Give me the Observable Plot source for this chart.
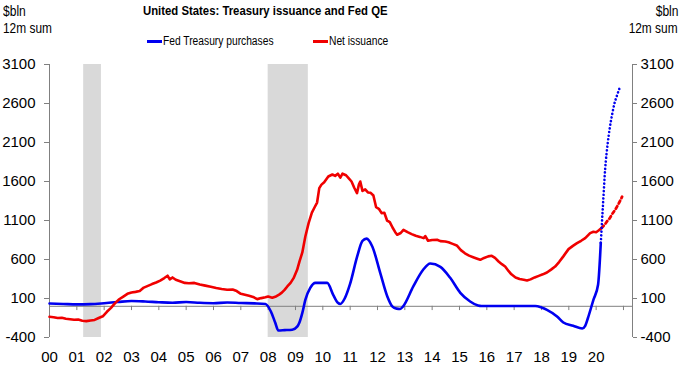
<!DOCTYPE html>
<html><head><meta charset="utf-8">
<script src="https://cdn.jsdelivr.net/npm/d3@7"></script>
<script src="https://cdn.jsdelivr.net/npm/@observablehq/plot@0.6"></script>
<style>
body{margin:0;background:#fff;font-family:"Liberation Sans",Arial,sans-serif;}
#wrap{position:relative;width:682px;height:366px;overflow:hidden;}
#wrap svg{position:absolute;left:0;top:0;}
.t{position:absolute;white-space:nowrap;color:#000;line-height:1;}
.sw{position:absolute;height:3px;width:15px;}
</style></head><body>
<div id="wrap"></div>
<script>
const title = "United States: Treasury issuance and Fed QE";
const unitLines = ["$bln", "12m sum"];
const seriesNames = ["Fed Treasury purchases", "Net issuance"];
const seriesColors = ["#0000f0", "#f00000"];

const xTicks = d3.range(2000, 2021);
const xTickLabels = ["00","01","02","03","04","05","06","07","08","09","10","11","12","13","14","15","16","17","18","19","20"];
const xMinorTicks = d3.range(2001, 2022);
const yTicks = [-400, 100, 600, 1100, 1600, 2100, 2600, 3100];
const xDomain = [2000, 2021.33];
const yDomain = [-400, 3100];

const recessions = [[2001.25, 2001.9], [2008.0, 2009.47]];

// Fed Treasury purchases, $bln 12m sum (solid = actual)
const fedPurchases = [
 [2000.0,35],[2000.5,30],[2001.0,25],[2001.5,28],[2002.0,40],[2002.5,55],[2003.0,68],[2003.5,62],
 [2004.0,52],[2004.5,45],[2005.0,55],[2005.5,45],[2006.0,40],[2006.5,48],[2007.0,42],[2007.5,38],
 [2007.9,30],[2008.1,-66],[2008.26,-212],[2008.37,-310],[2008.6,-306],[2008.88,-300],[2009.07,-258],
 [2009.14,-212],[2009.25,-85],[2009.36,83],[2009.54,237],[2009.73,300],[2010.16,300],[2010.38,147],
 [2010.55,45],[2010.64,30],[2010.8,100],[2011.0,290],[2011.25,630],[2011.45,840],[2011.6,868],
 [2011.81,767],[2012.1,429],[2012.36,126],[2012.54,0],[2012.7,-30],[2012.83,-34],[2012.94,0],
 [2013.31,254],[2013.67,468],[2013.93,548],[2014.3,506],[2014.66,365],[2015.03,173],[2015.39,62],
 [2015.68,10],[2015.8,4],[2017.77,4],[2018.0,-15],[2018.2,-45],[2018.57,-130],[2018.8,-208],
 [2019.16,-250],[2019.49,-284],[2019.6,-250],[2019.7,-150],[2019.9,83],[2020.07,276],[2020.17,814]
];
// Fed purchases projection (dotted)
const fedProjection = [
 [2020.17,814],[2020.25,1300],[2020.33,1760],[2020.42,2080],[2020.5,2290],[2020.58,2450],
 [2020.67,2600],[2020.75,2690],[2020.85,2790]
];
// Net issuance, $bln 12m sum (solid = actual)
const netIssuance = [
 [2000.0,-135],[2000.15,-140],[2000.3,-150],[2000.45,-148],[2000.6,-160],[2000.75,-165],[2000.9,-172],
 [2001.05,-170],[2001.2,-185],[2001.35,-190],[2001.5,-182],[2001.65,-175],[2001.8,-150],[2001.95,-128],
 [2002.1,-70],[2002.25,-20],[2002.4,40],[2002.55,90],[2002.7,125],[2002.85,160],[2003.0,178],
 [2003.15,185],[2003.3,195],[2003.45,240],[2003.6,262],[2003.75,285],[2003.9,305],[2004.05,330],
 [2004.2,362],[2004.32,392],[2004.4,345],[2004.5,370],[2004.62,340],[2004.8,318],[2004.95,300],
 [2005.1,296],[2005.3,300],[2005.5,280],[2005.7,265],[2005.9,250],[2006.1,235],[2006.3,222],
 [2006.5,212],[2006.7,215],[2006.85,195],[2007.0,160],[2007.15,148],[2007.3,135],[2007.45,120],
 [2007.6,92],[2007.75,105],[2007.9,115],[2008.0,126],[2008.15,110],[2008.26,122],[2008.4,150],
 [2008.5,175],[2008.6,210],[2008.7,254],[2008.82,300],[2008.93,361],[2009.06,468],[2009.15,580],
 [2009.25,690],[2009.36,895],[2009.48,1067],[2009.6,1200],[2009.7,1270],[2009.79,1330],[2009.87,1515],
 [2009.95,1560],[2010.05,1590],[2010.2,1664],[2010.35,1690],[2010.45,1672],[2010.55,1700],
 [2010.64,1650],[2010.72,1700],[2010.85,1680],[2010.95,1640],[2011.05,1600],[2011.15,1520],
 [2011.25,1451],[2011.32,1560],[2011.37,1600],[2011.45,1480],[2011.55,1500],[2011.65,1460],
 [2011.75,1455],[2011.85,1420],[2011.95,1270],[2012.05,1250],[2012.15,1195],[2012.25,1200],
 [2012.35,1100],[2012.45,1080],[2012.55,1010],[2012.65,950],[2012.72,917],[2012.85,940],
 [2012.95,981],[2013.1,950],[2013.25,925],[2013.4,905],[2013.55,890],[2013.69,874],[2013.75,900],
 [2013.85,840],[2014.0,850],[2014.18,853],[2014.3,835],[2014.48,831],[2014.6,820],[2014.75,800],
 [2014.9,780],[2015.05,720],[2015.2,680],[2015.35,650],[2015.5,630],[2015.65,610],[2015.76,596],
 [2015.9,620],[2016.05,640],[2016.18,647],[2016.3,620],[2016.43,574],[2016.55,540],[2016.67,510],
 [2016.8,450],[2016.9,410],[2017.05,370],[2017.2,350],[2017.35,340],[2017.47,330],[2017.6,345],
 [2017.75,370],[2017.9,390],[2018.05,410],[2018.2,433],[2018.35,470],[2018.5,510],[2018.65,570],
 [2018.8,640],[2018.99,733],[2019.15,775],[2019.3,810],[2019.45,840],[2019.6,874],[2019.7,910],
 [2019.78,938],[2019.9,955],[2020.0,950],[2020.1,975],[2020.2,1005]
];
// Net issuance projection (dashed)
const netProjection = [
 [2020.2,1005],[2020.3,1040],[2020.4,1090],[2020.5,1130],[2020.6,1190],[2020.7,1240],[2020.8,1300],[2020.95,1405]
];

const X = d => d[0], Y = d => d[1];
const axisColor = "#808080";

const chart = Plot.plot({
  width: 682, height: 366,
  marginTop: 64, marginBottom: 29, marginLeft: 49, marginRight: 50,
  style: {fontSize: "15px", fontFamily: "'Liberation Sans', Arial, sans-serif", background: "white", color: "black"},
  x: {domain: xDomain},
  y: {domain: yDomain},
  marks: [
    Plot.rect(recessions, {x1: d => d[0], x2: d => d[1], fill: "#d9d9d9"}),
    Plot.ruleY([0], {stroke: axisColor, strokeWidth: 1}),
    Plot.ruleX(xMinorTicks, {x: d => d, y1: 0, y2: -55, stroke: axisColor}),
    Plot.ruleX(xDomain, {x: d => d, stroke: axisColor}),
    Plot.axisY({anchor: "left", ticks: yTicks, tickFormat: d => String(d), tickSize: 5, tickPadding: 9, label: null, stroke: axisColor}),
    Plot.axisY({anchor: "right", ticks: yTicks, tickFormat: d => String(d), tickSize: 4, tickPadding: 4, label: null, stroke: axisColor}),
    Plot.axisX({ticks: xTicks, tickFormat: (d, i) => xTickLabels[i], tickSize: 0, tickPadding: 14, label: null}),
    Plot.line(fedPurchases, {x: X, y: Y, stroke: seriesColors[0], strokeWidth: 2.6, curve: "monotone-x"}),
    Plot.line(netIssuance, {x: X, y: Y, stroke: seriesColors[1], strokeWidth: 2.6}),
    Plot.line(netProjection, {x: X, y: Y, stroke: seriesColors[1], strokeWidth: 2.8, strokeDasharray: "3,3"}),
    Plot.line(fedProjection, {x: X, y: Y, stroke: seriesColors[0], strokeWidth: 2.6, curve: "monotone-x", strokeDasharray: "0.1,3.6", strokeLinecap: "round"})
  ]
});

const wrap = document.getElementById("wrap");
wrap.appendChild(chart);

function addText(txt, opts, sx, origin) {
  const el = document.createElement("div");
  el.className = "t";
  el.textContent = txt;
  Object.assign(el.style, opts);
  el.style.transform = "scaleX(" + sx + ")";
  el.style.transformOrigin = origin || "left center";
  wrap.appendChild(el);
  return el;
}
addText(title, {left: "143px", top: "3.6px", fontSize: "13.5px", fontWeight: "bold"}, 0.84);
addText(unitLines[0], {left: "3px", top: "3.6px", fontSize: "14px"}, 0.86);
addText(unitLines[1], {left: "3px", top: "20.6px", fontSize: "14px"}, 0.85);
addText(unitLines[0], {right: "4px", top: "3.6px", fontSize: "14px"}, 0.86, "right center");
addText(unitLines[1], {right: "4px", top: "20.6px", fontSize: "14px"}, 0.85, "right center");

const legendX = [147, 313];
seriesNames.forEach((name, i) => {
  const sw = document.createElement("div");
  sw.className = "sw";
  Object.assign(sw.style, {left: legendX[i] + "px", top: "40px", background: seriesColors[i]});
  wrap.appendChild(sw);
  addText(name, {left: (legendX[i] + 16) + "px", top: "35.4px", fontSize: "12.5px"}, 0.82);
});
</script>
</body></html>
